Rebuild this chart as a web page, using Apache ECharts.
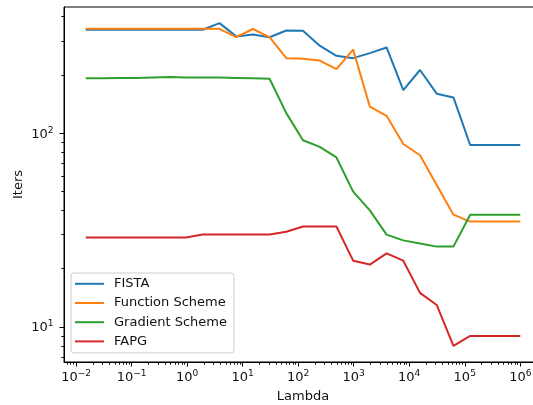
<!DOCTYPE html>
<html>
<head>
<meta charset="utf-8">
<script src="https://cdn.jsdelivr.net/npm/echarts@6/dist/echarts.min.js"></script>
<style>
html,body{margin:0;padding:0;background:#fff;}
#chart{width:533px;height:405px;}
</style>
</head>
<body>
<div id="chart"></div>
<script>
// Lambda values (x)
const lambdas = [0.01490116, 0.02980232, 0.05960464, 0.11920929, 0.23841858, 0.47683716,
  0.95367432, 1.90734863, 3.81469727, 7.62939453, 15.2587891, 30.5175781, 61.0351563,
  122.070313, 244.140625, 488.28125, 976.5625, 1953.125, 3906.25, 7812.5, 15625, 31250,
  62500, 125000, 250000, 500000, 1000000];

const seriesNames = ['FISTA', 'Function Scheme', 'Gradient Scheme', 'FAPG'];

const fista = [342, 342, 342, 342, 342, 342, 342, 342, 370, 316, 323, 313, 339, 338, 283,
  251, 244, 259, 277, 167, 212, 160, 153, 87, 87, 87, 87];
const functionScheme = [346, 346, 346, 346, 346, 346, 346, 346, 346, 313, 345, 313, 244,
  242, 237, 214, 270, 137, 123, 88, 77, 54, 38, 35, 35, 35, 35];
const gradientScheme = [192, 192, 193, 193, 194, 195, 194, 194, 194, 193, 192, 191, 127,
  92, 85, 75, 50, 40, 30, 28, 27, 26, 26, 38, 38, 38, 38];
const fapg = [29, 29, 29, 29, 29, 29, 29, 30, 30, 30, 30, 30, 31, 33, 33, 33, 22, 21, 24,
  22, 15, 13, 8, 9, 9, 9, 9];

const colors = ['#1f77b4', '#ff7f0e', '#2ca02c', '#d62728'];
const allData = [fista, functionScheme, gradientScheme, fapg];

// axis extents (log10 space)
const xLogMin = -2.218, xLogMax = 6.391;
const yLogMin = 0.8196, yLogMax = 2.6514;

function fmtPow(v) {
  const e = Math.round(Math.log10(v));
  const s = e < 0 ? '\u2212' + (-e) : String(e);
  return '{b|10}{s|' + s + '}';
}

function minorLogs(lo, hi) {
  const out = [];
  for (let k = Math.floor(lo) - 1; k <= Math.ceil(hi); k++) {
    for (let m = 2; m <= 9; m++) {
      const v = k + Math.log10(m);
      if (v > lo && v < hi) out.push(v);
    }
  }
  return out;
}

const font = 'DejaVu Sans';
const fs = 13;
const tc = '#111';
const powRich = {
  b: {fontFamily: font, fontSize: fs, lineHeight: 15, color: tc, verticalAlign: 'bottom'},
  s: {fontFamily: font, fontSize: 9.1, lineHeight: 10.4, color: tc, verticalAlign: 'top'}
};

const chart = echarts.init(document.getElementById('chart'), null, {renderer: 'canvas'});
chart.setOption({
  animation: false,
  backgroundColor: '#fff',
  textStyle: {fontFamily: font},
  grid: {left: 64, width: 478, top: 7, bottom: 43, outerBoundsMode: 'none', containLabel: false,
    show: true, borderColor: '#000', borderWidth: 1, backgroundColor: 'transparent'},
  legend: {
    orient: 'vertical',
    left: 71, top: 273,
    padding: [3.3, 7, 4, 4],
    itemWidth: 29, itemHeight: 2, itemGap: 4.2,
    icon: 'rect',
    backgroundColor: 'rgba(255,255,255,0.8)',
    borderColor: '#cccccc', borderWidth: 1, borderRadius: 3,
    formatter: name => '{t|' + name + '}',
    textStyle: {fontFamily: font, fontSize: fs, color: tc, lineHeight: 15,
      rich: {t: {fontFamily: font, fontSize: fs, color: tc, padding: [0, 0, 0, 5], lineHeight: 15}}},
    data: seriesNames
  },
  xAxis: [{
    type: 'log', logBase: 10,
    min: Math.pow(10, xLogMin), max: Math.pow(10, xLogMax),
    splitNumber: 5,
    position: 'bottom',
    name: 'Lambda', nameLocation: 'middle', nameGap: 27.4, nameMoveOverlap: false,
    nameTextStyle: {fontFamily: font, fontSize: fs, color: tc, lineHeight: 15},
    axisLine: {show: true, onZero: false, lineStyle: {color: '#000', width: 1}},
    axisTick: {show: true, inside: false, length: 4.5, lineStyle: {color: '#000', width: 1}},
    axisLabel: {show: true, margin: 7, fontFamily: font, fontSize: fs, color: tc,
      showMinLabel: false, showMaxLabel: false, formatter: fmtPow, rich: powRich},
    splitLine: {show: false}, minorTick: {show: false}
  }, {
    type: 'value', min: xLogMin, max: xLogMax, position: 'bottom',
    axisLine: {show: false, onZero: false},
    axisLabel: {show: false},
    splitLine: {show: false},
    axisTick: {show: true, inside: false, length: 2.6, lineStyle: {color: '#000', width: 1},
      customValues: minorLogs(xLogMin, xLogMax)}
  }],
  yAxis: [{
    type: 'log', logBase: 10,
    min: Math.pow(10, yLogMin), max: Math.pow(10, yLogMax),
    splitNumber: 5,
    position: 'left',
    name: 'Iters', nameLocation: 'middle', nameGap: 38, nameRotate: 90, nameMoveOverlap: false,
    nameTextStyle: {fontFamily: font, fontSize: fs, color: tc, lineHeight: 15},
    axisLine: {show: true, onZero: false, lineStyle: {color: '#000', width: 1}},
    axisTick: {show: true, inside: false, length: 4.5, lineStyle: {color: '#000', width: 1}},
    axisLabel: {show: true, margin: 10.5, fontFamily: font, fontSize: fs, color: tc,
      showMinLabel: false, showMaxLabel: false, formatter: fmtPow, rich: powRich},
    splitLine: {show: false}, minorTick: {show: false}
  }, {
    type: 'value', min: yLogMin, max: yLogMax, position: 'left',
    axisLine: {show: false, onZero: false},
    axisLabel: {show: false},
    splitLine: {show: false},
    axisTick: {show: true, inside: false, length: 2.6, lineStyle: {color: '#000', width: 1},
      customValues: minorLogs(yLogMin, yLogMax)}
  }],
  series: seriesNames.map((name, si) => ({
    name: name,
    type: 'line',
    xAxisIndex: 0, yAxisIndex: 0,
    symbol: 'none',
    color: colors[si],
    lineStyle: {color: colors[si], width: 2},
    data: lambdas.map((x, i) => [x, allData[si][i]])
  }))
});
</script>
</body>
</html>
